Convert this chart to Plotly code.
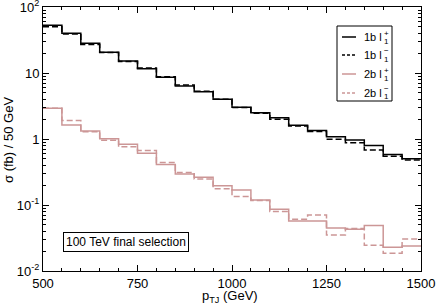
import plotly.graph_objects as go

edges = [500 + 50 * i for i in range(21)]

b1_plus = [52.8, 40.0, 28.2, 20.6, 15.2, 11.6, 8.6, 6.35, 5.2, 4.0,
           3.02, 2.5, 2.1, 1.61, 1.34, 1.08, 0.966, 0.80, 0.58, 0.50]
b1_minus = [50.0, 39.0, 27.0, 20.5, 15.0, 11.9, 8.8, 6.6, 5.3, 4.0,
            3.0, 2.45, 1.99, 1.58, 1.30, 0.99, 0.88, 0.68, 0.55, 0.48]
b2_plus = [2.92, 1.63, 1.32, 1.01, 0.83, 0.61, 0.41, 0.295, 0.263, 0.196,
           0.169, 0.119, 0.086, 0.057, 0.057, 0.045, 0.043, 0.049, 0.0229, 0.024]
b2_minus = [2.92, 1.90, 1.29, 0.96, 0.76, 0.67, 0.44, 0.31, 0.248, 0.177,
            0.134, 0.117, 0.080, 0.061, 0.0705, 0.035, 0.044, 0.0245, 0.0185, 0.0305]

series_labels = ["1b l", "1b l", "2b l", "2b l"]
series_sups = ["+", "−", "+", "−"]

red = "rgb(204,150,150)"
styles = [("black", "solid"), ("black", "6px,3px"), (red, "solid"), (red, "6px,3px")]

ymajor = [0.01, 0.1, 1, 10, 100]
ytext = ["10<sup>-2</sup>", "10<sup>-1</sup>", "1", "10", "10<sup>2</sup>"]
yminor = [m * d for d in [0.01, 0.1, 1, 10] for m in range(2, 10)]
xmajor = [500, 750, 1000, 1250, 1500]

W, H = 436, 306
L, R, T, B = 43, 15, 7, 35
pw, ph = W - L - R, H - T - B

def px(x):
    return (x - L) / pw

def py(y):
    return 1 - (y - T) / ph

fig = go.Figure()
for vals, (col, dash) in zip([b1_plus, b1_minus, b2_plus, b2_minus], styles):
    fig.add_trace(go.Scatter(
        x=edges, y=list(vals) + [vals[-1]], mode="lines", line_shape="hv",
        line=dict(color=col, width=1.5, dash=dash), showlegend=False,
        hoverinfo="skip"))

font = "Liberation Sans, Arial, sans-serif"

shapes = []
annotations = []

# legend box (manual, to match the compact original)
shapes.append(dict(type="rect", xref="paper", yref="paper",
                   x0=px(337), x1=px(392), y0=py(101), y1=py(26),
                   line=dict(color="black", width=1), fillcolor="white", layer="above"))
rows = [37, 55, 74, 93]
for i, (row, (col, dash)) in enumerate(zip(rows, styles)):
    shapes.append(dict(type="line", xref="paper", yref="paper",
                       x0=px(342), x1=px(356), y0=py(row), y1=py(row),
                       line=dict(color=col, width=1.5, dash="3px,2px" if dash != "solid" else "solid"),
                       layer="above"))
    annotations.append(dict(text=series_labels[i], xref="paper", yref="paper",
                            x=px(362), y=py(row), xanchor="left", yanchor="middle",
                            showarrow=False, font=dict(size=11)))
    annotations.append(dict(text=series_sups[i], xref="paper", yref="paper",
                            x=px(382), y=py(row - 4), xanchor="left", yanchor="middle",
                            showarrow=False, font=dict(size=8)))
    annotations.append(dict(text="1", xref="paper", yref="paper",
                            x=px(382), y=py(row + 4), xanchor="left", yanchor="middle",
                            showarrow=False, font=dict(size=8)))

annotations.append(dict(text="100 TeV final selection", xref="paper", yref="paper",
                        x=px(125.5), y=py(241.5), xanchor="center", yanchor="middle",
                        showarrow=False, bordercolor="black", borderwidth=1,
                        borderpad=2, bgcolor="white", font=dict(size=12)))
annotations.append(dict(text="p<sub>TJ</sub> (GeV)", xref="paper", yref="paper",
                        x=px(230), y=py(296), xanchor="center", yanchor="middle",
                        showarrow=False, font=dict(size=13)))
annotations.append(dict(text="σ (fb) / 50 GeV", xref="paper", yref="paper",
                        x=px(8), y=py(140), xanchor="center", yanchor="middle",
                        textangle=-90, showarrow=False, font=dict(size=13)))

fig.update_layout(
    width=W, height=H,
    margin=dict(l=L, r=R, t=T, b=B),
    paper_bgcolor="white", plot_bgcolor="white",
    font=dict(family=font, size=13, color="black"),
    showlegend=False,
    xaxis=dict(range=[500, 1500], showgrid=False, zeroline=False, automargin=False,
               showline=True, linecolor="black", linewidth=1, mirror="allticks",
               ticks="inside", ticklen=6, tickcolor="black", ticklabeloverflow="allow",
               tickmode="array", tickvals=xmajor, ticktext=[str(v) for v in xmajor],
               minor=dict(tickmode="array", tickvals=edges, ticks="inside", ticklen=3,
                          tickcolor="black", showgrid=False)),
    yaxis=dict(type="log", range=[-2, 2], showgrid=False, zeroline=False, automargin=False,
               showline=True, linecolor="black", linewidth=1, mirror="allticks",
               ticks="inside", ticklen=6, tickcolor="black", ticklabeloverflow="allow",
               tickmode="array", tickvals=ymajor, ticktext=ytext,
               minor=dict(tickmode="array", tickvals=yminor, ticks="inside", ticklen=3,
                          tickcolor="black", showgrid=False)),
    shapes=shapes,
    annotations=annotations,
)

fig.write_html("out.html", config={"displayModeBar": False},
               post_script="document.body.style.margin='0';document.body.style.overflow='hidden';")
